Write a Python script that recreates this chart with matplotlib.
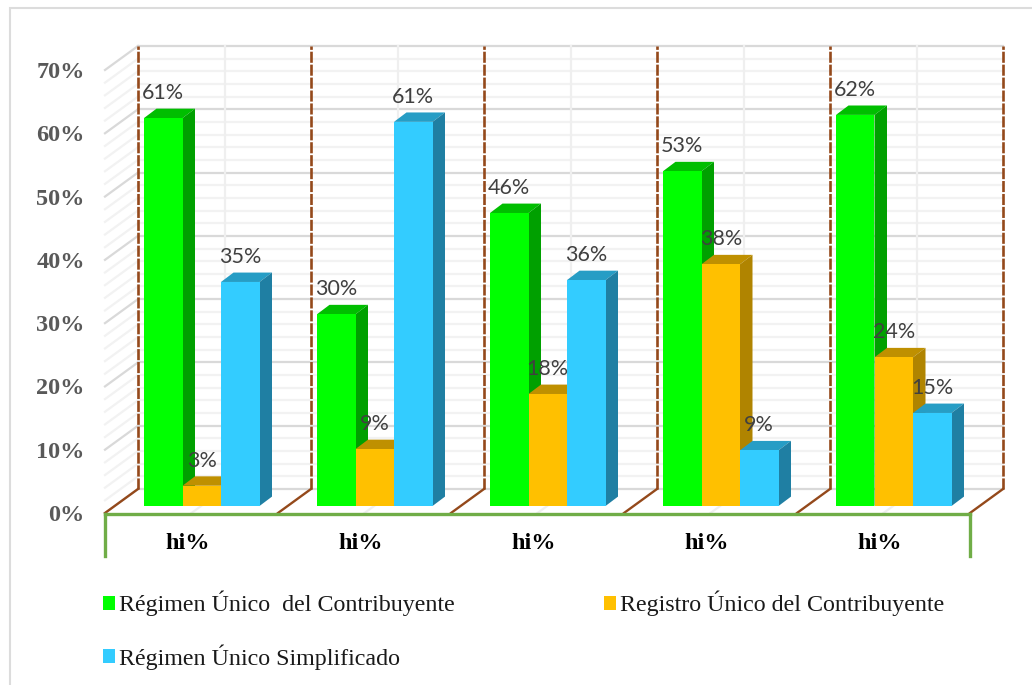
import matplotlib
matplotlib.use('Agg')
import matplotlib.pyplot as plt
from matplotlib.patches import Polygon, Patch, Rectangle

W, H = 1032, 685

categorias = ['hi%', 'hi%', 'hi%', 'hi%', 'hi%']
regimen_unico = [61.3, 30.3, 46.3, 52.9, 61.8]
registro_unico = [3.2, 9.0, 17.7, 38.2, 23.5]
regimen_simpl = [35.4, 60.7, 35.7, 8.8, 14.7]
series_nombres = ['Régimen Único  del Contribuyente', 'Registro Único del Contribuyente', 'Régimen Único Simplificado']
y_ticks = [0, 10, 20, 30, 40, 50, 60, 70]

# front, side, top
colores = [('#00FF00', '#00A000', '#00BE00'),
           ('#FFC000', '#B08400', '#BF9000'),
           ('#33CCFF', '#1F7FA3', '#269DC5')]

fig = plt.figure(figsize=(W / 100, H / 100), dpi=100)
fig.patch.set_facecolor('white')
# front plane of the chart: px 105..970 in x, px 513..70 in y
ax = fig.add_axes([105 / W, 1 - 513 / H, 865 / W, 443 / H])
ax.set_xlim(0, 5)
ax.set_ylim(0, 70)
ax.patch.set_visible(False)
for s in ax.spines.values():
    s.set_visible(False)

px_x = 5 / 865
px_y = 70 / 443
# wall depth and bar depth
dx, dy = 33 * px_x, 24 * px_y
bx, by = 12.5 * px_x, 9.4 * px_y
base = 7 * px_y
ancho = 38.5 * px_x
inicio = 39 * px_x

# marco exterior (solo se ve arriba y a la izquierda)
fig.add_artist(Rectangle((10 / W, -0.02), 1.05, 1.02 - 7.7 / H, transform=fig.transFigure,
                         fill=False, ec='#DCDCDC', lw=1.5))

# lineas de la pared
for v in range(0, 71, 2):
    mayor = v % 10 == 0
    color = '#D9D9D9' if mayor else '#F2F2F2'
    ax.plot([dx, 5 + dx], [v + dy, v + dy], color=color, lw=1.6, clip_on=False, zorder=1)
    ax.plot([0, dx], [v, v + dy], color=color, lw=1.6, clip_on=False, zorder=1)
for i in range(5):
    ax.plot([i + 0.5 + dx, i + 0.5 + dx], [dy, 70 + dy], color='#EFEFEF', lw=1.6, clip_on=False, zorder=1)
    ax.plot([i + 0.5, i + 0.5 + dx], [0, dy], color='#EFEFEF', lw=1.6, clip_on=False, zorder=1)
for i in range(6):
    ax.plot([i + dx, i + dx], [dy, 70 + dy], color='#94491B', lw=1.9, ls=(0, (4.2, 0.7)), clip_on=False, zorder=2)
    ax.plot([i, i + dx], [0, dy], color='#94491B', lw=1.7, clip_on=False, zorder=2)

# barras
for k, valores in enumerate([regimen_unico, registro_unico, regimen_simpl]):
    frente, lado, arriba = colores[k]
    for i, v in enumerate(valores):
        x0 = i + inicio + k * ancho
        x1 = x0 + ancho
        top = base + v
        ax.add_patch(Polygon([(x0, top), (x1, top), (x1 + bx, top + by), (x0 + bx, top + by)],
                             fc=arriba, ec='none', clip_on=False, zorder=3 + k))
        ax.add_patch(Polygon([(x1, base), (x1 + bx, base + by), (x1 + bx, top + by), (x1, top)],
                             fc=lado, ec='none', clip_on=False, zorder=3 + k))
    ax.bar([i + inicio + k * ancho for i in range(5)], valores, width=ancho, bottom=base, align='edge',
           color=frente, clip_on=False, zorder=3 + k)
    for i, v in enumerate(valores):
        ax.text(i + inicio + (k + 0.5) * ancho, base + v + 25 * px_y, f'{v:.0f}%', ha='center', va='center',
                fontsize=15.5, family='Lato', color='#404040', zorder=10)

# base verde
ax.plot([0, 5], [-0.2, -0.2], color='#70AD47', lw=2.4, clip_on=False, zorder=8)
ax.plot([0, 0], [-0.2, -43 * px_y], color='#70AD47', lw=2.4, clip_on=False, zorder=8)
ax.plot([5, 5], [-0.2, -43 * px_y], color='#70AD47', lw=2.4, clip_on=False, zorder=8)

ax.set_yticks(y_ticks)
ax.set_yticklabels([f'{v}%' for v in y_ticks], fontsize=17.5, fontweight='bold', family='Liberation Serif', color='#595959')
ax.set_xticks([i + 0.48 for i in range(5)])
ax.set_xticklabels(categorias, fontsize=17.5, fontweight='bold', family='Liberation Serif', color='black')
ax.tick_params(axis='y', length=0, pad=14.5)
ax.tick_params(axis='x', length=0, pad=14.7)

# la leyenda llena por columnas: verde y azul a la izquierda, ambar a la derecha
handles = [Patch(fc=colores[k][0], ec='none', label=series_nombres[k]) for k in (0, 2, 1)]
fig.legend(handles=handles, ncol=2, loc='upper left', bbox_to_anchor=(103 / W, 1 - 591 / H), frameon=False,
           prop={'family': 'Liberation Serif', 'size': 17.3}, handlelength=0.5, handleheight=0.5,
           handletextpad=0.17, columnspacing=6.2, labelspacing=1.15, borderpad=0, borderaxespad=0, labelcolor='#1A1A1A')

fig.savefig('out.png', dpi=100)
